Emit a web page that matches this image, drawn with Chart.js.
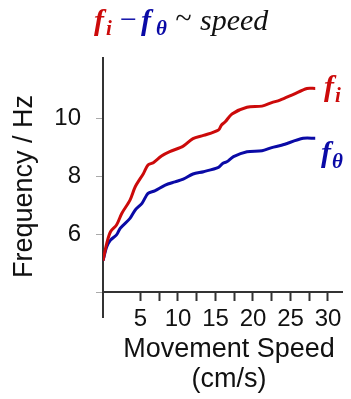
<!DOCTYPE html>
<html>
<head>
<meta charset="utf-8">
<script src="https://cdn.jsdelivr.net/npm/chart.js@4.4.1/dist/chart.umd.min.js"></script>
<style>
  html, body { margin: 0; padding: 0; background: #fff; }
  #wrap { width: 351px; height: 399px; position: relative; }
</style>
</head>
<body>
<div id="wrap"><canvas id="c" width="351" height="399"></canvas></div>
<script>
// Movement speed (cm/s) and oscillation frequency (Hz) for the two rhythms
const speedI = [0, 0.5, 1.0, 1.8, 2.5, 3.6, 4.3, 5.4, 6.0, 6.7, 7.8, 8.9, 10.7, 12.0, 13.4, 15.4, 15.8, 16.3, 17.2, 19.2, 21.2, 22.5, 23.6, 25.4, 27.2, 28.3];
const freqI  = [5.08, 5.68, 6.08, 6.31, 6.71, 7.17, 7.63, 8.09, 8.38, 8.46, 8.69, 8.84, 9.03, 9.29, 9.40, 9.59, 9.76, 9.87, 10.14, 10.37, 10.41, 10.53, 10.62, 10.82, 11.02, 11.02];

const speedTheta = [0, 0.5, 1.0, 1.8, 2.3, 3.6, 4.3, 5.2, 6.0, 6.9, 8.3, 9.6, 10.7, 12.0, 13.4, 15.4, 16.0, 16.5, 17.4, 19.2, 21.2, 22.5, 23.8, 26.7, 28.3];
const freqTheta  = [5.08, 5.56, 5.79, 5.97, 6.20, 6.54, 6.83, 7.06, 7.40, 7.49, 7.69, 7.80, 7.89, 8.07, 8.15, 8.30, 8.44, 8.49, 8.67, 8.84, 8.87, 8.98, 9.06, 9.30, 9.30];

// Axis ticks
const speedTicks = [5, 7.5, 10, 12.5, 15, 17.5, 20, 22.5, 25, 27.5, 30];
const freqTicks  = [4, 6, 8, 10];
const freqTickLabels = ['', '6', '8', '10'];

const RED = '#cc0a0a';
const BLUE = '#0a0aa6';

const toPoints = (xs, ys) => xs.map((x, i) => ({ x, y: ys[i] }));

// Title, curve labels and axis titles
const annotations = {
  id: 'annotations',
  afterDraw(chart) {
    const ctx = chart.ctx;
    ctx.save();
    ctx.textBaseline = 'alphabetic';
    ctx.textAlign = 'left';

    const big = 'bold italic 30px "Liberation Serif"';
    const sub = 'bold italic 21px "Liberation Serif"';
    const put = (text, font, color, x, y) => {
      ctx.font = font; ctx.fillStyle = color;
      ctx.fillText(text, x, y);
      return x + ctx.measureText(text).width;
    };

    // f_i − f_θ ~ speed
    const base = 30;
    put('f', big, RED, 94, base);
    put('i', sub, RED, 106, base + 5);
    put('\u2212', '30px "Liberation Serif"', BLUE, 120, base - 1);
    put('f', big, BLUE, 141, base);
    put('\u03B8', sub, BLUE, 156, base + 5);
    put('~', 'italic 30px "Liberation Serif"', '#111', 175, base - 2);
    put('speed', 'italic 30px "Liberation Serif"', '#111', 200, base);

    // Curve labels
    let lx = put('f', big, RED, 324, 96);
    put('i', sub, RED, lx + 1, 102);
    lx = put('f', big, BLUE, 321, 162);
    put('\u03B8', sub, BLUE, lx + 1, 168);

    // Axis titles
    ctx.fillStyle = '#111';
    ctx.font = '27px "Liberation Sans"';
    ctx.textAlign = 'center';
    ctx.fillText('Movement Speed', 229, 357);
    ctx.fillText('(cm/s)', 229, 387);

    ctx.translate(32, 186.5);
    ctx.rotate(-Math.PI / 2);
    ctx.fillText('Frequency / Hz', 0, 0);
    ctx.restore();
  }
};

new Chart(document.getElementById('c'), {
  type: 'line',
  data: {
    datasets: [
      { label: 'f_i', data: toPoints(speedI, freqI), borderColor: RED, borderWidth: 3, pointRadius: 0, tension: 0.3, fill: false },
      { label: 'f_theta', data: toPoints(speedTheta, freqTheta), borderColor: BLUE, borderWidth: 3, pointRadius: 0, tension: 0.3, fill: false }
    ]
  },
  options: {
    responsive: false,
    animation: false,
    layout: { padding: { top: 58, bottom: 82, left: 0, right: 9 } },
    plugins: { legend: { display: false }, tooltip: { enabled: false } },
    scales: {
      x: {
        type: 'linear',
        position: { y: 4 },
        min: 0,
        max: 31.87,
        afterBuildTicks(scale) { scale.ticks = speedTicks.map(v => ({ value: v })); },
        ticks: {
          autoSkip: false,
          maxRotation: 0,
          padding: 5,
          color: '#111',
          font: { family: 'Liberation Sans', size: 24 },
          callback: v => (v % 5 === 0 ? String(v) : '')
        },
        grid: { drawOnChartArea: false, drawTicks: true, tickLength: 8, tickColor: '#333', tickWidth: 2 },
        border: { display: true, color: '#333', width: 2 }
      },
      y: {
        type: 'linear',
        position: 'left',
        min: 3.14,
        max: 12.07,
        afterBuildTicks(scale) { scale.ticks = freqTicks.map(v => ({ value: v })); },
        afterFit(scale) { scale.width = 103; },
        ticks: {
          padding: 15,
          color: '#111',
          font: { family: 'Liberation Sans', size: 24 },
          callback: v => freqTickLabels[freqTicks.indexOf(v)] ?? ''
        },
        grid: { drawOnChartArea: false, drawTicks: true, tickLength: 7, tickColor: '#aaa', tickWidth: 1 },
        border: { display: true, color: '#333', width: 2 }
      }
    }
  },
  plugins: [annotations]
});
</script>
</body>
</html>
